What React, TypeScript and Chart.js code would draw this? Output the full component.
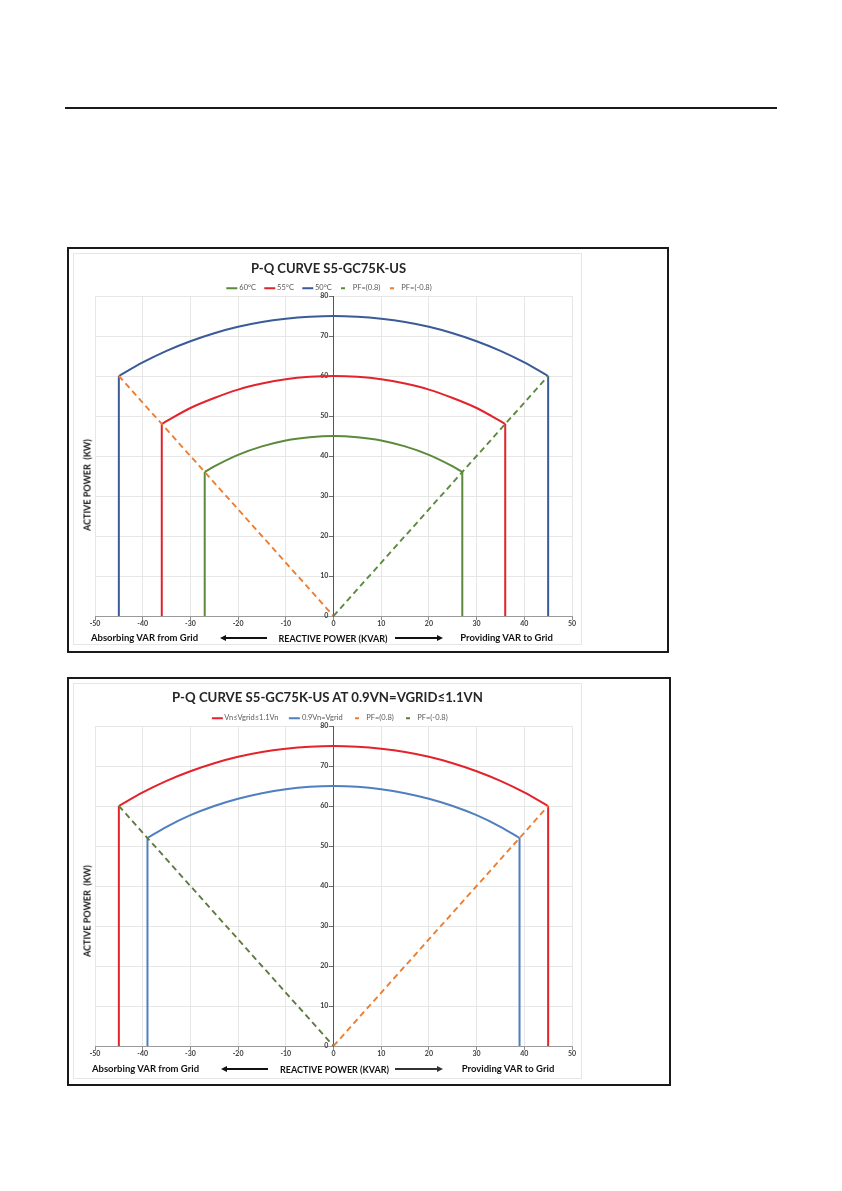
import React, { useEffect, useRef } from "react";
import { Chart, registerables } from "chart.js";

Chart.register(...registerables);

const FONT = "Lato, 'Open Sans', 'DejaVu Sans', sans-serif";

// ---------- axes ----------
const Q_MIN = -50;
const Q_MAX = 50;
const P_MIN = 0;
const P_MAX = 80;
const TICK_STEP = 10;

// ---------- chart 1: P-Q CURVE S5-GC75K-US ----------
const c1_60C_q = [-27, -25, -20, -15, -10, -5, 0, 5, 10, 15, 20, 25, 27];
const c1_60C_p = [36, 37.4, 40.3, 42.4, 43.9, 44.7, 45, 44.7, 43.9, 42.4, 40.3, 37.4, 36];
const c1_55C_q = [-36, -35, -30, -25, -20, -15, -10, -5, 0, 5, 10, 15, 20, 25, 30, 35, 36];
const c1_55C_p = [48, 48.7, 52, 54.5, 56.6, 58.1, 59.2, 59.8, 60, 59.8, 59.2, 58.1, 56.6, 54.5, 52, 48.7, 48];
const c1_50C_q = [-45, -40, -35, -30, -25, -20, -15, -10, -5, 0, 5, 10, 15, 20, 25, 30, 35, 40, 45];
const c1_50C_p = [60, 63.4, 66.3, 68.7, 70.7, 72.3, 73.5, 74.3, 74.8, 75, 74.8, 74.3, 73.5, 72.3, 70.7, 68.7, 66.3, 63.4, 60];
const c1_pfPos_q = [0, 45];
const c1_pfPos_p = [0, 60];
const c1_pfNeg_q = [-45, 0];
const c1_pfNeg_p = [60, 0];

// ---------- chart 2: at 0.9Vn=Vgrid≤1.1Vn ----------
const c2_nom_q = [-45, -40, -35, -30, -25, -20, -15, -10, -5, 0, 5, 10, 15, 20, 25, 30, 35, 40, 45];
const c2_nom_p = [60, 63.4, 66.3, 68.7, 70.7, 72.3, 73.5, 74.3, 74.8, 75, 74.8, 74.3, 73.5, 72.3, 70.7, 68.7, 66.3, 63.4, 60];
const c2_low_q = [-39, -35, -30, -25, -20, -15, -10, -5, 0, 5, 10, 15, 20, 25, 30, 35, 39];
const c2_low_p = [52, 54.8, 57.7, 60, 61.8, 63.2, 64.2, 64.8, 65, 64.8, 64.2, 63.2, 61.8, 60, 57.7, 54.8, 52];
const c2_pfPos_q = [0, 45];
const c2_pfPos_p = [0, 60];
const c2_pfNeg_q = [-45, 0];
const c2_pfNeg_p = [60, 0];

const GREEN = "#5b8a3c";
const RED = "#e3232b";
const BLUE1 = "#3b5b98";
const BLUE2 = "#4f7fbf";
const ORANGE = "#ed7d31";
const OLIVE = "#5f7a40";

type Series = { q: number[]; p: number[]; color: string; dashed?: boolean; sides?: boolean };

function zip(q: number[], p: number[]) {
  return q.map((x, i) => ({ x, y: p[i] }));
}

function buildDatasets(series: Series[]) {
  const ds: any[] = [];
  series.forEach((s) => {
    if (s.dashed) {
      ds.push({
        data: zip(s.q, s.p),
        borderColor: s.color,
        borderWidth: 1.9,
        borderDash: [6, 4],
        pointRadius: 0,
        tension: 0,
      });
    } else {
      ds.push({
        data: zip(s.q, s.p),
        borderColor: s.color,
        borderWidth: 2,
        pointRadius: 0,
        cubicInterpolationMode: "monotone",
      });
      if (s.sides) {
        const n = s.q.length - 1;
        ds.push({
          data: [{ x: s.q[0], y: 0 }, { x: s.q[0], y: s.p[0] }],
          borderColor: s.color,
          borderWidth: 2,
          pointRadius: 0,
        });
        ds.push({
          data: [{ x: s.q[n], y: s.p[n] }, { x: s.q[n], y: 0 }],
          borderColor: s.color,
          borderWidth: 2,
          pointRadius: 0,
        });
      }
    }
  });
  return ds;
}

function PQCanvas(props: { left: number; top: number; width: number; height: number; padTop: number; plotH: number; series: Series[] }) {
  const ref = useRef<HTMLCanvasElement | null>(null);
  useEffect(() => {
    if (!ref.current) return;
    const xAxisH = props.height - props.padTop - props.plotH;
    const tickFont = { family: FONT, size: 7, weight: "bold" as const };
    const chart = new Chart(ref.current, {
      type: "line",
      data: { datasets: buildDatasets(props.series) },
      options: {
        animation: false,
        responsive: false,
        layout: { padding: { left: 22, right: 9, top: props.padTop, bottom: 0 } },
        plugins: { legend: { display: false }, title: { display: false }, tooltip: { enabled: false } },
        scales: {
          x: {
            type: "linear",
            min: Q_MIN,
            max: Q_MAX,
            ticks: { stepSize: TICK_STEP, font: tickFont, color: "#404040", padding: 0, maxRotation: 0 },
            grid: { color: "#e4e4e4", tickColor: "#808080", tickLength: 4, lineWidth: 0.9 },
            border: { color: "#9a9a9a", width: 1 },
            afterFit: (s: any) => {
              s.height = xAxisH;
            },
          },
          y: {
            type: "linear",
            min: P_MIN,
            max: P_MAX,
            position: { x: 0 } as any,
            ticks: {
              stepSize: TICK_STEP,
              font: tickFont,
              color: "#404040",
              // centred axis: labels are right-aligned on the axis line, trailing spaces keep them clear of the tick
              callback: (v: any) => `${v}   `,
            },
            grid: { color: "#e4e4e4", tickColor: "#606060", tickLength: 4, lineWidth: 0.9 },
            border: { color: "#555555", width: 1 },
          },
        },
      } as any,
    });
    return () => chart.destroy();
  }, []);
  return (
    <canvas
      ref={ref}
      width={props.width}
      height={props.height}
      style={{ position: "absolute", left: props.left, top: props.top, width: props.width, height: props.height }}
    />
  );
}

function Text(props: { x: number; y: number; size: number; bold?: boolean; color?: string; rotate?: boolean; children: React.ReactNode }) {
  return (
    <div
      style={{
        position: "absolute",
        left: props.x,
        top: props.y,
        transform: `translate(-50%, -50%)${props.rotate ? " rotate(-90deg)" : ""}`,
        fontFamily: FONT,
        fontSize: props.size,
        fontWeight: props.bold ? 700 : 400,
        color: props.color || "#111",
        whiteSpace: "nowrap",
        lineHeight: 1,
      }}
    >
      {props.children}
    </div>
  );
}

function Arrow(props: { x1: number; x2: number; y: number; dir: "left" | "right"; color?: string }) {
  const c = props.color || "#111";
  const head = 6;
  const lineLeft = props.dir === "left" ? props.x1 + head - 1 : props.x1;
  const lineW = props.x2 - props.x1 - head + 1;
  return (
    <>
      <div style={{ position: "absolute", left: lineLeft, top: props.y - 0.75, width: lineW, height: 1.5, background: c }} />
      <div
        style={{
          position: "absolute",
          left: props.dir === "left" ? props.x1 : props.x2 - head,
          top: props.y - 3,
          width: 0,
          height: 0,
          borderTop: "3px solid transparent",
          borderBottom: "3px solid transparent",
          borderRight: props.dir === "left" ? `${head}px solid ${c}` : undefined,
          borderLeft: props.dir === "right" ? `${head}px solid ${c}` : undefined,
        }}
      />
    </>
  );
}

type LegendItem = { label: string; color: string; dashed?: boolean };

function Legend(props: { x: number; y: number; gap: number; items: LegendItem[] }) {
  return (
    <div
      style={{
        position: "absolute",
        left: props.x,
        top: props.y,
        transform: "translate(-50%, -50%)",
        display: "flex",
        alignItems: "center",
        gap: props.gap,
        fontFamily: FONT,
        fontSize: 7.5,
        color: "#595959",
        whiteSpace: "nowrap",
        lineHeight: 1,
      }}
    >
      {props.items.map((it, i) => (
        <div key={i} style={{ display: "flex", alignItems: "center", gap: 2 }}>
          <span
            style={{
              display: "inline-block",
              width: 11,
              height: 2,
              background: it.dashed ? `linear-gradient(to right, transparent 0 2px, ${it.color} 2px 6px, transparent 6px)` : it.color,
            }}
          />
          <span>{it.label}</span>
        </div>
      ))}
    </div>
  );
}

const legend1: LegendItem[] = [
  { label: "60°C", color: GREEN },
  { label: "55°C", color: RED },
  { label: "50°C", color: BLUE1 },
  { label: "PF=(0.8)", color: GREEN, dashed: true },
  { label: "PF=(-0.8)", color: ORANGE, dashed: true },
];

const legend2: LegendItem[] = [
  { label: "Vn≤Vgrid≤1.1Vn", color: RED },
  { label: "0.9Vn=Vgrid", color: BLUE2 },
  { label: "PF=(0.8)", color: ORANGE, dashed: true },
  { label: "PF=(-0.8)", color: OLIVE, dashed: true },
];

const series1: Series[] = [
  { q: c1_pfPos_q, p: c1_pfPos_p, color: GREEN, dashed: true },
  { q: c1_pfNeg_q, p: c1_pfNeg_p, color: ORANGE, dashed: true },
  { q: c1_60C_q, p: c1_60C_p, color: GREEN, sides: true },
  { q: c1_55C_q, p: c1_55C_p, color: RED, sides: true },
  { q: c1_50C_q, p: c1_50C_p, color: BLUE1, sides: true },
];

const series2: Series[] = [
  { q: c2_pfPos_q, p: c2_pfPos_p, color: ORANGE, dashed: true },
  { q: c2_pfNeg_q, p: c2_pfNeg_p, color: OLIVE, dashed: true },
  { q: c2_nom_q, p: c2_nom_p, color: RED, sides: true },
  { q: c2_low_q, p: c2_low_p, color: BLUE2, sides: true },
];

function Box(props: { left: number; top: number; width: number; height: number; border: string }) {
  return (
    <div
      style={{
        position: "absolute",
        left: props.left,
        top: props.top,
        width: props.width,
        height: props.height,
        border: props.border,
        boxSizing: "border-box",
      }}
    />
  );
}

export default function App() {
  return (
    <div style={{ position: "absolute", left: 0, top: 0, width: 842, height: 1191, background: "#fff", overflow: "hidden" }}>
      <div style={{ position: "absolute", left: 65, top: 107, width: 712, height: 1.5, background: "#1a1a1a" }} />

      {/* chart 1 */}
      <Box left={67} top={247} width={602} height={406} border="2px solid #1a1a1a" />
      <Box left={73} top={253} width={509} height={392} border="1px solid #e6e6e6" />
      <PQCanvas left={73} top={253} width={508} height={392} padTop={43} plotH={320} series={series1} />
      <Text x={328.5} y={268} size={13} bold color="#262626">P-Q CURVE S5-GC75K-US</Text>
      <Legend x={329} y={288} gap={8} items={legend1} />
      <Text x={87} y={485} size={9} bold rotate>ACTIVE POWER&nbsp;&nbsp;(KW)</Text>
      <Text x={144.5} y={638} size={9.5} bold>Absorbing VAR from Grid</Text>
      <Arrow x1={220} x2={267} y={638} dir="left" />
      <Text x={333} y={638} size={9} bold>REACTIVE POWER (KVAR)</Text>
      <Arrow x1={395} x2={443} y={638} dir="right" />
      <Text x={506.5} y={638} size={9.5} bold>Providing VAR to Grid</Text>

      {/* chart 2 */}
      <Box left={67} top={677} width={604} height={409} border="2px solid #1a1a1a" />
      <Box left={73} top={683} width={509} height={396} border="1px solid #e6e6e6" />
      <PQCanvas left={73} top={683} width={508} height={396} padTop={43} plotH={320} series={series2} />
      <Text x={327.5} y={698} size={13.2} bold color="#262626">P-Q CURVE S5-GC75K-US AT 0.9VN=VGRID≤1.1VN</Text>
      <Legend x={329.5} y={718} gap={10.5} items={legend2} />
      <Text x={87} y={911} size={9} bold rotate>ACTIVE POWER&nbsp;&nbsp;(KW)</Text>
      <Text x={145.5} y={1069} size={9.5} bold>Absorbing VAR from Grid</Text>
      <Arrow x1={221} x2={268} y={1069} dir="left" />
      <Text x={334.5} y={1069} size={9} bold>REACTIVE POWER (KVAR)</Text>
      <Arrow x1={395} x2={443} y={1069} dir="right" color="#333" />
      <Text x={508} y={1069} size={9.5} bold>Providing VAR to Grid</Text>
    </div>
  );
}
